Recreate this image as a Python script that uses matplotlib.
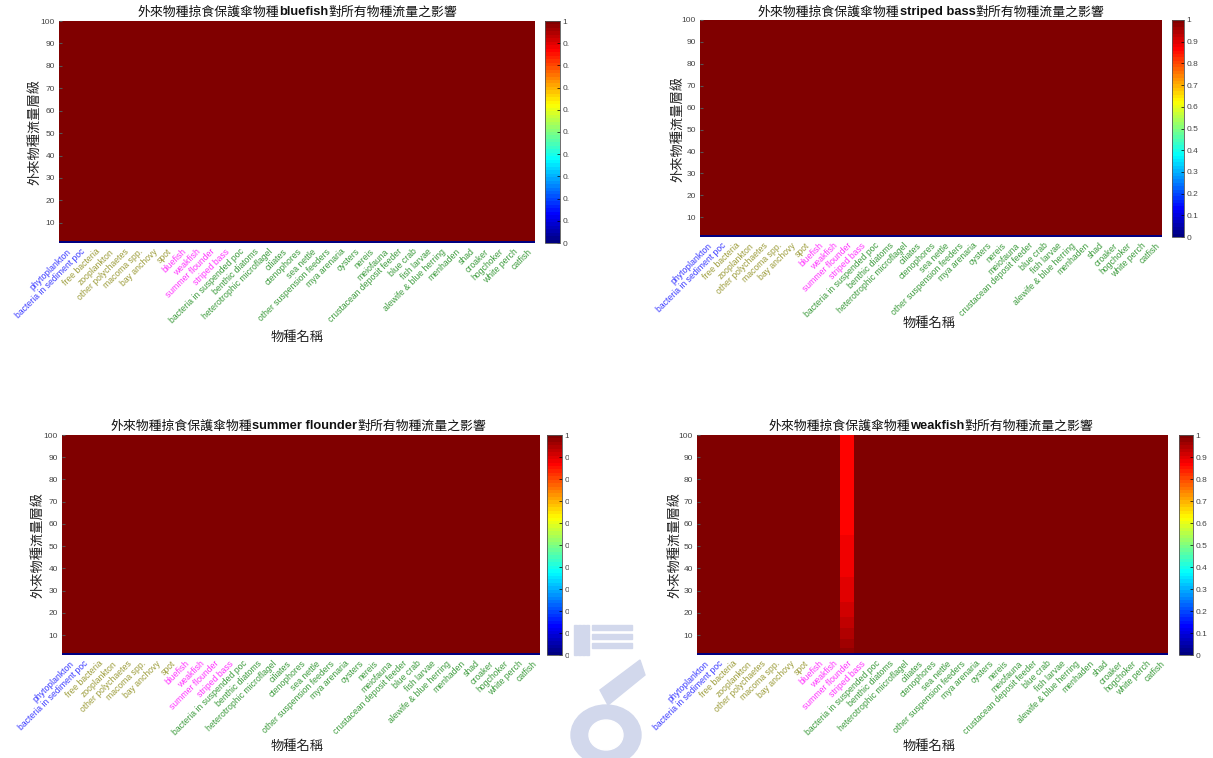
import numpy as np
import matplotlib
matplotlib.use("Agg")
import matplotlib.pyplot as plt
from matplotlib.colors import LinearSegmentedColormap
from matplotlib.transforms import Bbox
from matplotlib.patches import Rectangle, Polygon, Ellipse

# ---- data -------------------------------------------------------------
species = [
    "phytoplankton", "bacteria in sediment poc", "free bacteria", "zooplankton",
    "other polychaetes", "macoma spp.", "bay anchovy", "spot", "bluefish",
    "weakfish", "summer flounder", "striped bass", "bacteria in suspended poc",
    "benthic diatoms", "heterotrophic microflagel", "ciliates", "ctenophores",
    "sea nettle", "other suspension feeders", "mya arenaria", "oysters", "nereis",
    "meiofauna", "crustacean deposit feeder", "blue crab", "fish larvae",
    "alewife & blue herring", "menhaden", "shad", "croaker", "hogchoker",
    "white perch", "catfish",
]
species_group = (["producer"] * 2 + ["lower"] * 6 + ["keystone"] * 4
                 + ["other"] * 21)
group_colors = {"producer": "#3a3aff", "lower": "#9c9c3a",
                "keystone": "#ff33ff", "other": "#3a9a3a"}

levels = np.arange(1, 101)          # alien species flux level 1..100
cbar_ticks = [0, 0.1, 0.2, 0.3, 0.4, 0.5, 0.6, 0.7, 0.8, 0.9, 1]
y_ticks = [10, 20, 30, 40, 50, 60, 70, 80, 90, 100]

predators = ["bluefish", "striped bass", "summer flounder", "weakfish"]

# relative flux of every species at level 1 and when unaffected
baseline_level1 = 0.0
unaffected = 1.0
# weakfish predation: relative flux of summer flounder per level
weakfish_summer_flounder = ([0.0] + [0.975] * 2 + [0.96] * 4 + [0.95] * 5
                            + [0.935] * 5 + [0.92] * 7 + [0.905] * 11
                            + [0.89] * 19 + [0.87] * 46)


def flux_grid(affected=None):
    grid = np.full((len(levels), len(species)), unaffected)
    grid[0, :] = baseline_level1
    if affected is not None:
        name, values = affected
        grid[:, species.index(name)] = values
    return grid


grids = {
    "bluefish": flux_grid(),
    "striped bass": flux_grid(),
    "summer flounder": flux_grid(),
    "weakfish": flux_grid(("summer flounder", weakfish_summer_flounder)),
}

# ---- figure -----------------------------------------------------------
W, H = 1213, 758
fig = plt.figure(figsize=(W / 100, H / 100), dpi=100)
cjk = "Noto Sans CJK TC"
latin = "Liberation Sans"

# classic 64-step jet (pure red at 7/8, dark red at 1)
cmap = LinearSegmentedColormap("jet64", {
    "red": [(0, 0, 0), (3 / 8, 0, 0), (5 / 8, 1, 1), (7 / 8, 1, 1), (1, 0.5, 0.5)],
    "green": [(0, 0, 0), (1 / 8, 0, 0), (3 / 8, 1, 1), (5 / 8, 1, 1),
              (7 / 8, 0, 0), (1, 0, 0)],
    "blue": [(0, 0.5, 0.5), (1 / 8, 1, 1), (3 / 8, 1, 1), (5 / 8, 0, 0),
             (1, 0, 0)],
}, N=64)


def frac(x0, x1, y0, y1):
    return [x0 / W, 1 - y1 / H, (x1 - x0) / W, (y1 - y0) / H]


title_groups = []


def panel(pred, ax_px, cb_px, title_xy, ylabel_x, xlabel_xy, cb_clip=None):
    ax = fig.add_axes(frac(*ax_px))
    x_edges = np.arange(len(species) + 1) + 0.5
    grid = grids[pred]
    mesh = ax.pcolormesh(x_edges, levels, grid[:-1, :], cmap=cmap,
                         vmin=0, vmax=1, shading="flat")
    ax.set_xlim(x_edges[0], x_edges[-1])
    ax.set_ylim(levels[0], levels[-1])
    ax.set_xticks(np.arange(1, len(species) + 1))
    ax.set_xticklabels(species, rotation=45, ha="right", va="top",
                       rotation_mode="anchor", fontsize=6.2, family=latin)
    for lab, grp in zip(ax.get_xticklabels(), species_group):
        lab.set_color(group_colors[grp])
    ax.set_yticks(y_ticks)
    ax.set_yticklabels([str(v) for v in y_ticks], fontsize=6, family=latin,
                       color="#444444")
    ax.tick_params(axis="x", length=0, pad=3)
    ax.tick_params(axis="y", length=2, direction="in", pad=3, color="#555555")
    for s in ax.spines.values():
        s.set_visible(False)

    cax = fig.add_axes(frac(*cb_px))
    cb = fig.colorbar(mesh, cax=cax, ticks=cbar_ticks)
    cb.ax.set_yticklabels([f"{t:g}" for t in cbar_ticks], fontsize=6,
                          family=latin, color="#444444")
    cb.ax.tick_params(length=2, direction="in", width=0.5, pad=2)
    cb.outline.set_linewidth(0.6)
    cb.outline.set_edgecolor("#555555")
    if cb_clip is not None:
        box = Bbox.from_extents(0, 0, cb_clip, H)
        for lab in cb.ax.get_yticklabels():
            lab.set_clip_on(True)
            lab.set_clip_box(box)

    fig.text(ylabel_x / W, 1 - (ax_px[2] + ax_px[3]) / 2 / H, "外來物種流量層級",
             rotation=90, ha="center", va="center", fontsize=9.5, family=cjk,
             color="#222222")
    fig.text(xlabel_xy[0] / W, 1 - xlabel_xy[1] / H, "物種名稱",
             ha="center", va="center", fontsize=9.5, family=cjk,
             color="#222222")

    parts = [("外來物種掠食保護傘物種", dict(family=cjk)),
             (pred, dict(family=latin, weight="bold")),
             ("對所有物種流量之影響", dict(family=cjk))]
    texts = [fig.text(0, 1 - title_xy[1] / H, s, ha="left", va="center",
                      fontsize=9.3, color="#111111", **kw) for s, kw in parts]
    title_groups.append((title_xy[0], texts))


panel("bluefish", (59, 535, 21, 243), (545, 560, 21, 243), (297, 12), 35,
      (297, 337), cb_clip=569)
panel("striped bass", (700, 1162, 20, 237), (1172, 1184, 20, 237),
      (931, 12), 678, (929, 323))
panel("summer flounder", (62, 540, 435, 655), (547, 562, 435, 655),
      (298, 426), 38, (297, 746), cb_clip=569)
panel("weakfish", (697, 1168, 435, 655), (1179, 1193, 435, 655),
      (931, 426), 675, (929, 746))

# faint institutional watermark behind the lower panels
wm = "#d2d8ec"
for i in range(4):
    fig.patches.append(Rectangle(((574 + i * 4) / W, 1 - 655 / H), 2.5 / W,
                                 30 / H, transform=fig.transFigure,
                                 color=wm, zorder=0))
for i in range(3):
    fig.patches.append(Rectangle((592 / W, 1 - (630 + i * 9) / H), 40 / W,
                                 5 / H, transform=fig.transFigure,
                                 color=wm, zorder=0))
fig.patches.append(Polygon([(600 / W, 1 - 690 / H), (640 / W, 1 - 660 / H),
                            (645 / W, 1 - 675 / H), (608 / W, 1 - 705 / H)],
                           transform=fig.transFigure, color=wm, zorder=0))
fig.patches.append(Ellipse((606 / W, 1 - 735 / H), 70 / W, 60 / H,
                           transform=fig.transFigure, color=wm, zorder=0))
fig.patches.append(Ellipse((606 / W, 1 - 735 / H), 34 / W, 30 / H,
                           transform=fig.transFigure, color="white", zorder=0))

# centre the mixed-font titles
fig.canvas.draw()
renderer = fig.canvas.get_renderer()
for xc, texts in title_groups:
    widths = [t.get_window_extent(renderer).width for t in texts]
    x = xc - sum(widths) / 2
    for t, w in zip(texts, widths):
        t.set_x(x / W)
        x += w

fig.savefig("out.png", dpi=100)
